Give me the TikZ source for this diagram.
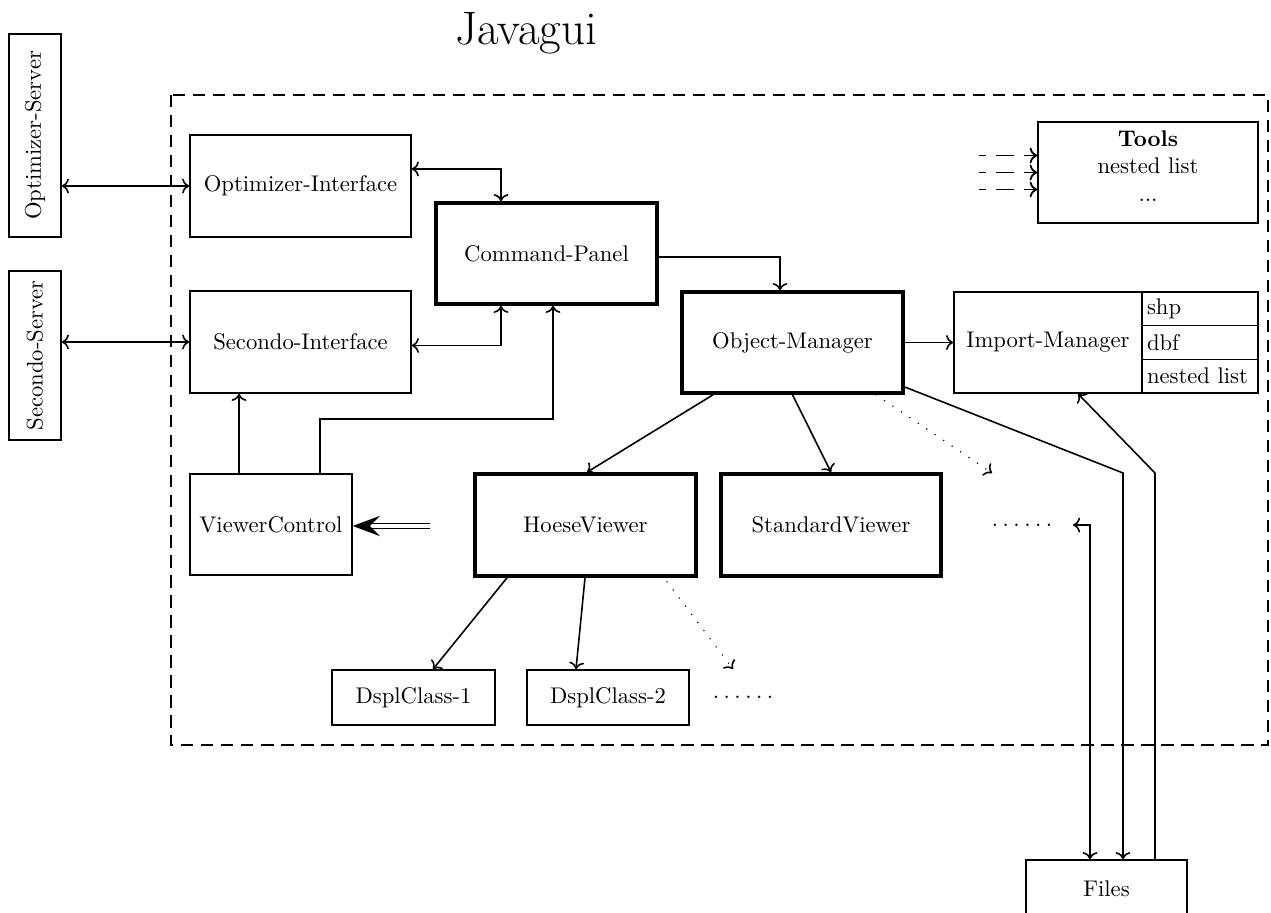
\documentclass[tikz,border=0pt]{standalone}
\usetikzlibrary{arrows.meta,calc}
\newcommand\pxu{0.4413pt}
\newcommand\sixdots{.\kern2pt.\kern2pt.\kern2pt.\kern2pt.\kern2pt.}
\begin{document}
\begin{tikzpicture}[x=0.4413pt,y=-0.4413pt,
  >={To},
  box/.style 2 args={draw,line width=0.7pt,rectangle,inner sep=0pt,
    minimum width=#1*\pxu,minimum height=#2*\pxu},
  boldbox/.style 2 args={box={#1}{#2},line width=1.6pt},
  cell/.style={draw,line width=0.7pt,rectangle,inner ysep=0pt,inner xsep=5*\pxu,
    text width=106*\pxu,align=left,minimum height=33.67*\pxu},
  conn/.style={line width=0.7pt},
  frame/.style={line width=0.7pt,dash pattern=on 12.5*\pxu off 7.5*\pxu},
  tooldash/.style={line width=0.8pt,dash pattern=on 18*\pxu off 10*\pxu,dash phase=11*\pxu},
  dotconn/.style={line width=0.7pt,line cap=round,dash pattern=on 0pt off 4.5pt},
  dblarrow/.style={double,double distance=1.4pt,line width=0.55pt,
    -{Stealth[length=12pt,width=9pt,inset=4.5pt]}},
]
\useasboundingbox (0,0) rectangle (1271,913);

% title and frame
\node[font=\huge,anchor=base,inner sep=0pt] (title) at (526,45) {Javagui};
\draw[frame] (171,95) rectangle (1268,745);

% servers
\node[box={203}{52},rotate=90] (optS) at (35,135.5) {Optimizer-Server};
\node[box={169}{52},rotate=90] (secS) at (35,355.5) {Secondo-Server};

% main boxes
\node[box={221}{102}] (optI) at (300.5,186) {Optimizer-Interface};
\node[box={221}{102}] (secI) at (300.5,342) {Secondo-Interface};
\node[boldbox={221}{101}] (cp) at (546.5,253.5) {Command-Panel};
\node[boldbox={221}{101}] (om) at (792.5,342.5) {Object-Manager};
\node[box={188}{101}] (im) at (1048,342.5) {Import-Manager};
\node[cell] (shp) at (1200,308.8) {shp};
\node[cell] (dbf) at (1200,342.5) {dbf};
\node[cell] (nl) at (1200,376.2) {nested list};
\node[box={220}{101}] (tools) at (1148,172.5) {};
\node[align=center,inner sep=0pt] (toolsT) at (1148,166) {\textbf{Tools}\\nested list\\...};
\node[box={162}{101}] (vc) at (271,524.5) {ViewerControl};
\node[boldbox={221}{102}] (hv) at (585.5,525) {HoeseViewer};
\node[boldbox={220}{102}] (sv) at (831,525) {StandardViewer};
\node (dotsA) at (1022,525) {\sixdots};
\node[box={163}{55}] (d1) at (413.5,697.5) {DsplClass-1};
\node[box={162}{55}] (d2) at (608,697.5) {DsplClass-2};
\node (dotsB) at (743,697) {\sixdots};
\node[box={161}{58}] (files) at (1106.5,889) {Files};

% helper coordinates
\coordinate (vcA) at ($(vc.north)+(-32,0)$);
\coordinate (vcB) at ($(vc.north)+(49,0)$);
\coordinate (dblS) at (430,526);
\coordinate (omDot) at (992,473);
\coordinate (hvDot) at (733,669);
\coordinate (bendA) at (1123,473);
\coordinate (bendB) at (1155,473);
\coordinate (dotsEnd) at (1073,525);

% connectors
\draw[conn,<->] (optI.west -| optS.south) -- (optI.west);
\draw[conn,<->] (secI.west -| secS.south) -- (secI.west);
\draw[conn,<->] ($(optI.east)+(0,-17)$) -| ($(cp.north)+(-45.5,0)$);
\draw[conn,<->] ($(secI.east)+(0,3.5)$) -| ($(cp.south)+(-45.5,0)$);
\draw[conn,->] (vcB) -- ++(0,-54) -| ($(cp.south)+(6.5,0)$);
\draw[conn,->] (vcA) -- (vcA |- secI.south);
\draw[dblarrow] (dblS) -- (vc.east |- dblS);
\draw[conn,->] ($(cp.east)+(0,3.5)$) -| ($(om.north)+(-12.5,0)$);
\draw[conn,->] (om.east) -- (im.west);
\draw[conn,->] ($(om.south)+(-79.5,0)$) -- ($(hv.north)+(1.5,0)$);
\draw[conn,->] (om.south) -- (sv.north);
\draw[dotconn,->] ($(om.south)+(83.5,0)$) -- (omDot);
\draw[conn,->] ($(om.east)+(0,44.5)$) -- (bendA) -- ($(files.north)+(16.5,0)$);
\draw[conn,->] ($(files.north)+(48.5,0)$) -- (bendB) -- ($(im.south)+(30,0)$);
\draw[conn,<->] (dotsEnd) -| ($(files.north)+(-16.5,0)$);
\draw[conn,->] ($(hv.south)+(-78.5,0)$) -- ($(d1.north)+(19.5,0)$);
\draw[conn,->] ($(hv.south)+(-0.5,0)$) -- ($(d2.north)+(-32,0)$);
\draw[dotconn,->] ($(hv.south)+(81.5,4)$) -- (hvDot);
\foreach \dy/\n in {-17/a,0/b,17/c}{
  \coordinate (tin\n) at ($(tools.west)+(-58,\dy)$);
  \draw[tooldash,->] (tin\n) -- ($(tools.west)+(0,\dy)$);
}
\end{tikzpicture}
\end{document}
